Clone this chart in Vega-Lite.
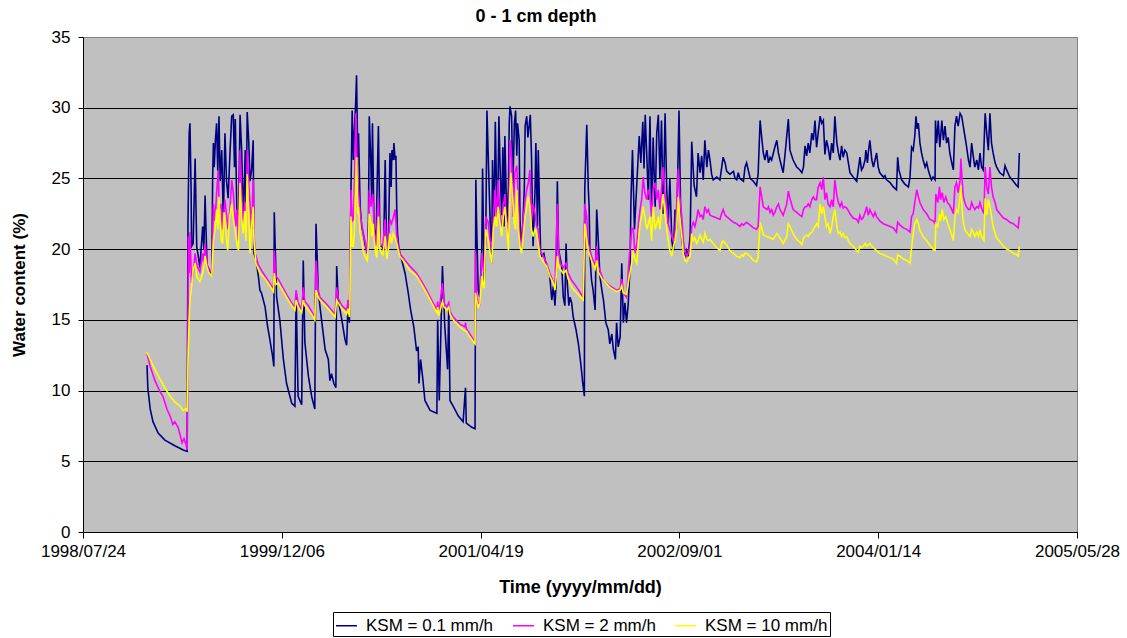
{
"$schema": "https://vega.github.io/schema/vega-lite/v6.json",
"width": 994, "height": 495,
"autosize": {"type": "none"},
"padding": {"left": 83, "top": 37, "right": 50, "bottom": 106},
"background": "white",
"config": {"font": "Liberation Sans", "view": {"fill": "#C0C0C0", "stroke": "#808080", "strokeWidth": 1}},
"title": {"text": "0 - 1 cm depth", "fontSize": 18, "fontWeight": "bold", "color": "black", "anchor": "middle", "dx": -44, "offset": 2},
"encoding": {
 "x": {"field": "d", "type": "quantitative", "scale": {"domain": [0, 2500], "nice": false, "zero": false},
  "axis": {"values": [0, 500, 1000, 1500, 2000, 2500], "labelExpr": "timeFormat(datetime(1998, 6, 24 + datum.value), '%Y/%m/%d')", "title": "Time (yyyy/mm/dd)", "grid": false, "domainColor": "black", "tickColor": "black", "tickSize": 6, "labelFontSize": 17, "labelColor": "black", "labelPadding": 5, "labelFlush": false, "titleFontSize": 18, "titleFontWeight": "bold", "titleColor": "black", "titlePadding": 19}},
 "y": {"field": "v", "type": "quantitative", "scale": {"domain": [0, 35], "nice": false},
  "axis": {"values": [0, 5, 10, 15, 20, 25, 30, 35], "title": "Water content (%)", "grid": true, "gridColor": {"condition": {"test": "datum.value == 35", "value": "#808080"}, "value": "black"}, "gridOpacity": 1, "gridWidth": 1, "domainColor": "black", "tickColor": "black", "tickSize": 5, "labelFontSize": 17, "labelColor": "black", "labelPadding": 8, "titleFontSize": 17, "titleFontWeight": "bold", "titleColor": "black", "titlePadding": 23}}
},
"layer": [
 {"data": {"values": [
{"d":161,"v":11.8},{"d":163,"v":10.2},{"d":169,"v":8.7},{"d":176,"v":7.8},{"d":189,"v":7.0},{"d":206,"v":6.5},{"d":231,"v":6.1},{"d":252,"v":5.8},{"d":262,"v":5.7},
{"d":264,"v":21.8},{"d":267,"v":28.2},{"d":269,"v":28.9},{"d":272,"v":24},{"d":273,"v":20.2},{"d":277,"v":20.4},{"d":282,"v":26.4},{"d":286,"v":20.2},{"d":290,"v":19.5},{"d":294,"v":18.7},{"d":301,"v":21.6},{"d":304,"v":20},{"d":307,"v":23.8},{"d":312,"v":18.8},{"d":317,"v":18.6},{"d":324,"v":18.1},{"d":326,"v":24.9},{"d":328,"v":27.5},{"d":330,"v":25.8},{"d":333,"v":27.7},{"d":336,"v":28.9},{"d":339,"v":25.5},{"d":342,"v":29.4},{"d":345,"v":24.8},{"d":349,"v":27.0},{"d":353,"v":22.0},{"d":357,"v":28.2},{"d":361,"v":24.8},{"d":365,"v":23.6},{"d":370,"v":27.0},{"d":374,"v":29.4},{"d":378,"v":29.5},{"d":381,"v":25.8},{"d":383,"v":29.2},{"d":387,"v":22.5},{"d":391,"v":21.6},{"d":395,"v":29.5},{"d":399,"v":27.0},{"d":403,"v":22.3},{"d":406,"v":24.8},{"d":408,"v":27.0},{"d":410,"v":21.7},{"d":413,"v":29.7},{"d":417,"v":27.5},{"d":420,"v":24.8},{"d":424,"v":25.6},{"d":428,"v":27.7},{"d":430,"v":19.7},{"d":435,"v":19.3},
{"d":441,"v":18.1},{"d":445,"v":17.1},{"d":449,"v":16.9},{"d":458,"v":15.9},{"d":464,"v":14.6},{"d":470,"v":13.6},{"d":477,"v":12.4},{"d":480,"v":11.7},{"d":481,"v":22.6},{"d":487,"v":16.6},{"d":495,"v":15.0},{"d":504,"v":12.2},{"d":512,"v":10.5},{"d":525,"v":9.1},{"d":533,"v":8.9},{"d":536,"v":16.9},{"d":541,"v":9.6},{"d":550,"v":9.0},{"d":554,"v":19.2},{"d":558,"v":13.4},{"d":567,"v":11.0},{"d":575,"v":9.6},{"d":583,"v":8.7},{"d":586,"v":21.8},{"d":592,"v":16.9},{"d":600,"v":15.0},{"d":609,"v":12.9},{"d":617,"v":12.2},{"d":621,"v":10.7},{"d":625,"v":11.2},{"d":631,"v":10.5},{"d":636,"v":10.2},{"d":638,"v":18.8},{"d":642,"v":16.4},{"d":651,"v":15.0},{"d":659,"v":13.6},{"d":663,"v":13.2},{"d":667,"v":16.4},{"d":670,"v":14.8},{"d":671,"v":16.9},
{"d":674,"v":24.2},{"d":677,"v":29.8},{"d":680,"v":26.3},{"d":682,"v":28.0},{"d":686,"v":30.5},{"d":688,"v":32.3},{"d":691,"v":26.5},{"d":693,"v":28.2},{"d":697,"v":23.0},{"d":701,"v":21.6},{"d":705,"v":21.1},{"d":709,"v":20.4},{"d":715,"v":19.7},{"d":718,"v":22.0},{"d":720,"v":29.4},{"d":724,"v":26.0},{"d":726,"v":23.5},{"d":728,"v":28.9},{"d":732,"v":21.6},{"d":737,"v":20.4},{"d":739,"v":23.5},{"d":743,"v":28.7},{"d":747,"v":20.2},{"d":752,"v":20.2},{"d":756,"v":19.9},{"d":760,"v":26.3},{"d":764,"v":19.7},{"d":768,"v":20.2},{"d":772,"v":26.8},{"d":775,"v":24.4},{"d":777,"v":27.0},{"d":780,"v":26.3},{"d":782,"v":27.5},{"d":785,"v":26.3},{"d":787,"v":26.6},{"d":789,"v":23.0},{"d":791,"v":21.1},{"d":794,"v":20.2},{"d":797,"v":19.7},{"d":802,"v":19.2},
{"d":810,"v":18.3},{"d":818,"v":16.9},{"d":824,"v":15.7},{"d":832,"v":14.5},{"d":839,"v":12.8},{"d":843,"v":13.1},{"d":845,"v":10.5},{"d":849,"v":12.2},{"d":854,"v":11.0},{"d":860,"v":9.3},{"d":873,"v":8.6},{"d":890,"v":8.4},{"d":892,"v":15.0},{"d":896,"v":9.3},{"d":904,"v":18.8},{"d":910,"v":14.5},{"d":917,"v":11.5},{"d":920,"v":15.9},{"d":923,"v":9.3},{"d":931,"v":8.9},{"d":944,"v":8.2},{"d":956,"v":7.8},{"d":962,"v":10.2},{"d":964,"v":7.7},{"d":978,"v":7.4},{"d":986,"v":7.3},
{"d":988,"v":24.9},{"d":990,"v":21.8},{"d":994,"v":17.1},{"d":998,"v":16.6},{"d":1003,"v":20.0},{"d":1005,"v":25.7},{"d":1009,"v":17.6},{"d":1013,"v":21.0},{"d":1016,"v":29.8},{"d":1020,"v":25.8},{"d":1024,"v":22.0},{"d":1028,"v":19.0},{"d":1030,"v":26.3},{"d":1034,"v":22.0},{"d":1037,"v":29.0},{"d":1040,"v":24.3},{"d":1043,"v":22.4},{"d":1046,"v":29.4},{"d":1049,"v":25.8},{"d":1053,"v":22.4},{"d":1056,"v":27.2},{"d":1059,"v":21.6},{"d":1061,"v":28.0},{"d":1066,"v":21.9},{"d":1070,"v":24.3},{"d":1072,"v":28.9},{"d":1074,"v":30.1},{"d":1078,"v":29.4},{"d":1081,"v":24.3},{"d":1085,"v":28.9},{"d":1088,"v":29.8},{"d":1091,"v":26.6},{"d":1093,"v":28.9},{"d":1097,"v":27.7},{"d":1099,"v":22.1},{"d":1103,"v":19.9},{"d":1107,"v":22.3},{"d":1110,"v":24.3},{"d":1112,"v":28.7},{"d":1116,"v":29.4},{"d":1119,"v":27.9},{"d":1122,"v":28.7},{"d":1125,"v":29.5},{"d":1128,"v":26.6},{"d":1132,"v":20.2},{"d":1137,"v":24.3},{"d":1139,"v":27.5},{"d":1143,"v":21.6},{"d":1145,"v":27.0},{"d":1148,"v":23.3},{"d":1151,"v":19.7},{"d":1154,"v":19.5},{"d":1159,"v":19.7},{"d":1164,"v":19.0},{"d":1170,"v":18.5},{"d":1174,"v":18.1},{"d":1179,"v":16.4},{"d":1183,"v":17.4},{"d":1187,"v":16.0},{"d":1190,"v":17.6},{"d":1193,"v":24.8},{"d":1196,"v":20.0},{"d":1200,"v":19.4},{"d":1204,"v":18.8},{"d":1208,"v":16.6},{"d":1212,"v":16.0},{"d":1215,"v":20.4},{"d":1218,"v":17.6},{"d":1222,"v":16.0},{"d":1225,"v":16.6},{"d":1229,"v":16.2},{"d":1233,"v":15.2},{"d":1240,"v":14.3},{"d":1246,"v":13.3},{"d":1252,"v":11.9},{"d":1257,"v":10.5},{"d":1261,"v":9.6},
{"d":1262,"v":24.2},{"d":1267,"v":28.8},{"d":1271,"v":24.2},{"d":1273,"v":23.0},{"d":1275,"v":19.5},{"d":1279,"v":17.8},{"d":1283,"v":17.1},{"d":1288,"v":15.7},{"d":1292,"v":22.8},{"d":1296,"v":20.6},{"d":1300,"v":18.1},{"d":1305,"v":17.1},{"d":1309,"v":16.4},{"d":1315,"v":14.8},{"d":1321,"v":14.3},{"d":1325,"v":13.3},{"d":1330,"v":14.0},{"d":1334,"v":12.9},{"d":1339,"v":12.2},{"d":1342,"v":14.8},{"d":1346,"v":13.1},{"d":1351,"v":13.8},{"d":1355,"v":19.0},{"d":1359,"v":14.8},{"d":1363,"v":16.2},{"d":1367,"v":14.8},{"d":1371,"v":16.0},{"d":1376,"v":18.8},{"d":1378,"v":23.3},{"d":1382,"v":27.0},{"d":1387,"v":21.4},{"d":1393,"v":24.7},
{"d":1399,"v":28.0},{"d":1403,"v":26.1},{"d":1408,"v":29.0},{"d":1411,"v":25.7},{"d":1414,"v":29.5},{"d":1418,"v":26.6},{"d":1422,"v":23.5},{"d":1426,"v":29.4},{"d":1430,"v":22.7},{"d":1434,"v":27.9},{"d":1439,"v":23.0},{"d":1443,"v":28.2},{"d":1447,"v":29.5},{"d":1451,"v":25.0},{"d":1455,"v":29.1},{"d":1459,"v":22.5},{"d":1464,"v":29.6},{"d":1468,"v":24.3},{"d":1472,"v":21.8},{"d":1476,"v":25.0},{"d":1481,"v":20.6},{"d":1485,"v":19.9},{"d":1489,"v":22.8},{"d":1493,"v":21.4},{"d":1499,"v":29.8},{"d":1503,"v":23.0},{"d":1506,"v":20.6},{"d":1510,"v":19.9},{"d":1514,"v":19.5},{"d":1518,"v":19.9},{"d":1522,"v":19.5},{"d":1527,"v":20.9},
{"d":1531,"v":27.6},{"d":1537,"v":24.5},{"d":1543,"v":23.7},{"d":1547,"v":26.8},{"d":1552,"v":25.4},{"d":1556,"v":26.6},{"d":1560,"v":24.9},{"d":1564,"v":27.7},{"d":1569,"v":25.8},{"d":1573,"v":27.0},{"d":1577,"v":26.3},{"d":1581,"v":25.3},{"d":1585,"v":24.9},{"d":1594,"v":25.1},{"d":1602,"v":24.9},{"d":1610,"v":26.5},{"d":1615,"v":26.1},{"d":1619,"v":25.5},{"d":1627,"v":25.3},{"d":1636,"v":25.5},{"d":1640,"v":25.0},{"d":1644,"v":24.9},{"d":1648,"v":25.4},{"d":1652,"v":25.0},{"d":1661,"v":24.8},{"d":1665,"v":25.8},{"d":1669,"v":26.1},{"d":1678,"v":25.0},{"d":1686,"v":24.8},{"d":1694,"v":24.5},{"d":1698,"v":25.3},{"d":1703,"v":29.1},{"d":1707,"v":27.9},{"d":1711,"v":26.8},{"d":1715,"v":26.3},{"d":1720,"v":27.0},{"d":1724,"v":26.1},{"d":1728,"v":26.5},{"d":1732,"v":26.3},{"d":1740,"v":27.2},{"d":1745,"v":27.7},{"d":1749,"v":26.8},{"d":1753,"v":26.3},{"d":1761,"v":25.4},{"d":1766,"v":26.8},{"d":1770,"v":28.0},{"d":1774,"v":29.2},{"d":1778,"v":27.0},{"d":1786,"v":26.3},{"d":1795,"v":25.8},{"d":1803,"v":25.6},{"d":1808,"v":25.4},{"d":1812,"v":25.8},{"d":1816,"v":27.3},{"d":1820,"v":26.6},{"d":1824,"v":27.5},{"d":1828,"v":26.8},{"d":1833,"v":28.2},{"d":1837,"v":27.7},{"d":1841,"v":29.1},{"d":1845,"v":27.2},{"d":1849,"v":28.2},{"d":1854,"v":29.4},{"d":1858,"v":28.9},{"d":1862,"v":29.1},{"d":1866,"v":26.7},{"d":1870,"v":27.7},{"d":1874,"v":27.2},{"d":1879,"v":26.3},{"d":1883,"v":27.5},{"d":1887,"v":26.8},{"d":1891,"v":29.4},{"d":1896,"v":27.5},{"d":1900,"v":26.8},{"d":1904,"v":26.3},{"d":1908,"v":27.3},{"d":1912,"v":26.5},{"d":1916,"v":27.0},{"d":1921,"v":26.8},{"d":1925,"v":26.1},{"d":1929,"v":25.4},{"d":1937,"v":25.1},{"d":1946,"v":24.8},{"d":1954,"v":26.5},{"d":1958,"v":25.6},{"d":1962,"v":25.8},{"d":1967,"v":26.3},{"d":1969,"v":27.0},{"d":1973,"v":26.1},{"d":1975,"v":26.8},{"d":1979,"v":27.7},{"d":1984,"v":26.3},{"d":1988,"v":25.8},{"d":1992,"v":26.3},{"d":1996,"v":26.8},{"d":2000,"v":25.8},{"d":2004,"v":25.4},{"d":2013,"v":25.1},{"d":2017,"v":25.2},{"d":2021,"v":24.9},{"d":2030,"v":24.7},{"d":2038,"v":24.4},{"d":2046,"v":24.2},{"d":2049,"v":26.5},{"d":2052,"v":25.6},{"d":2059,"v":24.9},{"d":2067,"v":24.6},{"d":2076,"v":24.4},{"d":2080,"v":25.1},{"d":2084,"v":27.2},{"d":2088,"v":27.0},{"d":2092,"v":28.0},{"d":2095,"v":29.4},{"d":2098,"v":28.5},{"d":2101,"v":28.9},{"d":2105,"v":27.5},{"d":2109,"v":26.8},{"d":2113,"v":26.3},{"d":2118,"v":25.8},{"d":2122,"v":26.1},{"d":2126,"v":25.6},{"d":2130,"v":25.2},{"d":2134,"v":24.9},{"d":2138,"v":25.1},{"d":2143,"v":24.9},{"d":2144,"v":29.1},{"d":2147,"v":27.5},{"d":2151,"v":29.1},{"d":2155,"v":27.2},{"d":2160,"v":29.1},{"d":2164,"v":27.7},{"d":2168,"v":28.7},{"d":2172,"v":27.5},{"d":2176,"v":27.9},{"d":2180,"v":26.8},{"d":2185,"v":26.1},{"d":2189,"v":25.6},{"d":2193,"v":28.7},{"d":2197,"v":29.4},{"d":2201,"v":28.7},{"d":2206,"v":29.6},{"d":2210,"v":29.4},{"d":2214,"v":28.7},{"d":2218,"v":28.0},{"d":2222,"v":27.3},{"d":2227,"v":26.3},{"d":2231,"v":25.8},{"d":2235,"v":27.5},{"d":2239,"v":26.6},{"d":2243,"v":25.8},{"d":2248,"v":26.3},{"d":2252,"v":25.6},{"d":2256,"v":26.8},{"d":2260,"v":25.8},{"d":2264,"v":25.6},{"d":2269,"v":29.6},{"d":2273,"v":28.2},{"d":2277,"v":27.0},{"d":2281,"v":29.6},{"d":2285,"v":27.5},{"d":2289,"v":26.8},{"d":2294,"v":26.1},{"d":2298,"v":25.8},{"d":2306,"v":25.4},{"d":2315,"v":25.2},{"d":2319,"v":25.9},{"d":2323,"v":25.6},{"d":2331,"v":25.1},{"d":2340,"v":24.8},{"d":2348,"v":24.5},{"d":2352,"v":24.4},{"d":2355,"v":26.8}
 ]},
 "mark": {"type": "line", "strokeWidth": 1.6},
 "encoding": {"color": {"datum": "KSM = 0.1 mm/h", "type": "nominal",
   "scale": {"domain": ["KSM = 0.1 mm/h", "KSM = 2 mm/h", "KSM = 10 mm/h"], "range": ["#000080", "#FF00FF", "#FFFF00"]},
   "legend": {"title": null, "orient": "none", "legendX": 250, "legendY": 575, "direction": "horizontal", "symbolType": "stroke", "symbolSize": 441, "symbolStrokeWidth": 1.5, "labelFontSize": 17, "labelColor": "black", "labelLimit": 300, "strokeColor": "black", "fillColor": "white", "padding": 2, "columnPadding": 16, "labelOffset": 8}}}
 },
 {"data": {"values": [
{"d":161,"v":12.6},{"d":169,"v":11.7},{"d":181,"v":10.7},{"d":194,"v":9.9},{"d":201,"v":9.6},{"d":211,"v":8.7},{"d":219,"v":8.2},{"d":226,"v":7.6},{"d":231,"v":7.8},{"d":239,"v":7.4},{"d":244,"v":6.9},{"d":249,"v":6.3},{"d":254,"v":6.6},{"d":259,"v":6.2},{"d":262,"v":5.8},
{"d":264,"v":14.0},{"d":265,"v":20.9},{"d":267,"v":18.3},{"d":269,"v":21.2},{"d":273,"v":17.6},{"d":277,"v":18.2},{"d":282,"v":19.7},{"d":287,"v":18.8},{"d":294,"v":18.4},{"d":301,"v":19.7},{"d":304,"v":18.9},{"d":307,"v":20.4},{"d":312,"v":18.9},{"d":317,"v":18.6},{"d":324,"v":18.3},{"d":328,"v":23.2},{"d":332,"v":22.0},{"d":336,"v":23.9},{"d":340,"v":25.6},{"d":343,"v":22.8},{"d":347,"v":23.2},{"d":351,"v":21.4},{"d":357,"v":23.5},{"d":361,"v":22.4},{"d":365,"v":21.4},{"d":370,"v":23.0},{"d":374,"v":24.9},{"d":378,"v":24.0},{"d":381,"v":22.8},{"d":384,"v":21.6},{"d":387,"v":22.8},{"d":391,"v":20.6},{"d":395,"v":27.0},{"d":399,"v":23.9},{"d":403,"v":21.6},{"d":407,"v":23.3},{"d":410,"v":21.0},{"d":413,"v":27.0},{"d":417,"v":24.6},{"d":420,"v":23.2},{"d":424,"v":21.4},{"d":428,"v":24.9},{"d":430,"v":21.1},{"d":433,"v":19.7},{"d":437,"v":19.3},
{"d":441,"v":18.9},{"d":449,"v":18.5},{"d":458,"v":18.1},{"d":470,"v":17.6},{"d":479,"v":17.2},{"d":481,"v":19.9},{"d":485,"v":18.1},{"d":491,"v":17.9},{"d":504,"v":17.2},{"d":512,"v":16.8},{"d":525,"v":16.2},{"d":533,"v":15.9},{"d":536,"v":17.1},{"d":541,"v":16.2},{"d":550,"v":15.7},{"d":554,"v":17.3},{"d":558,"v":16.3},{"d":567,"v":16.0},{"d":575,"v":15.6},{"d":583,"v":15.2},{"d":586,"v":19.2},{"d":592,"v":17.0},{"d":596,"v":16.6},{"d":613,"v":16.1},{"d":625,"v":15.7},{"d":634,"v":15.4},{"d":638,"v":17.3},{"d":642,"v":16.5},{"d":651,"v":16.0},{"d":663,"v":15.7},{"d":667,"v":16.4},{"d":670,"v":15.5},{"d":671,"v":16.9},
{"d":674,"v":24.2},{"d":677,"v":22.0},{"d":680,"v":22.1},{"d":683,"v":25.0},{"d":686,"v":29.6},{"d":689,"v":26.5},{"d":692,"v":24.4},{"d":697,"v":22.5},{"d":701,"v":21.8},{"d":705,"v":21.0},{"d":709,"v":20.6},{"d":715,"v":19.7},{"d":718,"v":21.5},{"d":720,"v":24.2},{"d":724,"v":23.0},{"d":729,"v":23.9},{"d":732,"v":21.4},{"d":737,"v":20.2},{"d":743,"v":23.6},{"d":747,"v":20.4},{"d":754,"v":20.2},{"d":760,"v":22.1},{"d":764,"v":19.9},{"d":768,"v":20.6},{"d":772,"v":22.1},{"d":776,"v":21.8},{"d":780,"v":22.2},{"d":785,"v":22.8},{"d":789,"v":21.0},{"d":793,"v":20.2},{"d":797,"v":19.7},
{"d":810,"v":19.2},{"d":822,"v":18.8},{"d":839,"v":18.3},{"d":852,"v":17.7},{"d":864,"v":17.1},{"d":877,"v":16.4},{"d":890,"v":15.7},{"d":892,"v":16.3},{"d":895,"v":15.5},{"d":904,"v":17.6},{"d":908,"v":16.2},{"d":915,"v":15.9},{"d":920,"v":16.2},{"d":923,"v":15.6},{"d":931,"v":15.2},{"d":948,"v":14.7},{"d":961,"v":14.5},{"d":962,"v":14.8},{"d":964,"v":14.4},{"d":973,"v":14.0},{"d":986,"v":13.4},
{"d":987,"v":19.9},{"d":990,"v":16.6},{"d":994,"v":16.2},{"d":998,"v":16.1},{"d":1003,"v":19.7},{"d":1007,"v":18.5},{"d":1009,"v":18.4},{"d":1013,"v":22.3},{"d":1019,"v":21.9},{"d":1024,"v":20.6},{"d":1028,"v":20.0},{"d":1032,"v":22.0},{"d":1036,"v":24.2},{"d":1040,"v":22.3},{"d":1044,"v":24.9},{"d":1049,"v":22.3},{"d":1053,"v":21.4},{"d":1057,"v":23.0},{"d":1061,"v":23.9},{"d":1066,"v":21.7},{"d":1070,"v":20.6},{"d":1074,"v":27.7},{"d":1078,"v":26.4},{"d":1082,"v":22.3},{"d":1086,"v":25.4},{"d":1091,"v":25.9},{"d":1095,"v":23.5},{"d":1099,"v":20.6},{"d":1103,"v":20.2},{"d":1107,"v":22.0},{"d":1112,"v":23.5},{"d":1116,"v":24.2},{"d":1120,"v":24.7},{"d":1124,"v":25.6},{"d":1128,"v":22.0},{"d":1132,"v":23.2},{"d":1137,"v":22.5},{"d":1141,"v":21.6},{"d":1145,"v":21.4},{"d":1149,"v":19.9},{"d":1158,"v":19.5},{"d":1166,"v":19.0},{"d":1174,"v":18.3},{"d":1187,"v":17.4},{"d":1193,"v":23.2},{"d":1196,"v":19.9},{"d":1200,"v":19.0},{"d":1208,"v":18.7},{"d":1215,"v":19.0},{"d":1220,"v":18.3},{"d":1229,"v":17.8},{"d":1242,"v":17.3},{"d":1258,"v":16.6},
{"d":1262,"v":23.2},{"d":1267,"v":22.3},{"d":1271,"v":20.4},{"d":1279,"v":19.5},{"d":1288,"v":18.8},{"d":1292,"v":20.2},{"d":1296,"v":18.8},{"d":1305,"v":18.1},{"d":1309,"v":17.8},{"d":1325,"v":17.4},{"d":1342,"v":17.1},{"d":1351,"v":17.2},{"d":1355,"v":17.9},{"d":1359,"v":16.9},{"d":1367,"v":16.6},{"d":1374,"v":19.5},{"d":1380,"v":21.4},{"d":1384,"v":21.5},
{"d":1388,"v":19.7},{"d":1393,"v":20.4},{"d":1397,"v":21.8},{"d":1401,"v":22.8},{"d":1405,"v":23.5},{"d":1409,"v":25.1},{"d":1413,"v":24.0},{"d":1418,"v":23.5},{"d":1422,"v":24.2},{"d":1426,"v":23.7},{"d":1430,"v":22.3},{"d":1434,"v":24.2},{"d":1439,"v":24.7},{"d":1443,"v":23.5},{"d":1447,"v":24.2},{"d":1451,"v":22.8},{"d":1455,"v":24.2},{"d":1459,"v":25.8},{"d":1464,"v":23.7},{"d":1468,"v":23.0},{"d":1472,"v":21.8},{"d":1476,"v":21.4},{"d":1481,"v":20.9},{"d":1485,"v":20.6},{"d":1489,"v":21.1},{"d":1493,"v":23.0},{"d":1497,"v":25.7},{"d":1501,"v":23.7},{"d":1506,"v":22.3},{"d":1510,"v":20.6},{"d":1514,"v":19.9},{"d":1518,"v":19.5},{"d":1522,"v":19.7},{"d":1527,"v":20.2},
{"d":1531,"v":21.6},{"d":1535,"v":21.9},{"d":1539,"v":21.6},{"d":1543,"v":22.1},{"d":1547,"v":22.8},{"d":1552,"v":22.3},{"d":1556,"v":22.4},{"d":1560,"v":22.1},{"d":1564,"v":23.0},{"d":1569,"v":22.6},{"d":1573,"v":22.8},{"d":1577,"v":22.4},{"d":1585,"v":22.3},{"d":1594,"v":22.2},{"d":1602,"v":22.1},{"d":1606,"v":22.5},{"d":1610,"v":22.8},{"d":1615,"v":22.4},{"d":1619,"v":22.3},{"d":1627,"v":22.1},{"d":1636,"v":21.9},{"d":1644,"v":21.8},{"d":1652,"v":21.6},{"d":1657,"v":21.8},{"d":1661,"v":21.7},{"d":1665,"v":21.8},{"d":1669,"v":21.9},{"d":1678,"v":21.7},{"d":1686,"v":21.5},{"d":1694,"v":21.4},{"d":1698,"v":21.6},{"d":1703,"v":24.4},{"d":1707,"v":23.7},{"d":1711,"v":23.0},{"d":1720,"v":22.8},{"d":1724,"v":23.0},{"d":1728,"v":22.6},{"d":1732,"v":22.8},{"d":1736,"v":22.4},{"d":1740,"v":22.6},{"d":1745,"v":23.0},{"d":1749,"v":23.2},{"d":1753,"v":22.8},{"d":1761,"v":22.4},{"d":1770,"v":23.2},{"d":1774,"v":24.1},{"d":1778,"v":23.6},{"d":1786,"v":22.8},{"d":1795,"v":22.6},{"d":1803,"v":22.4},{"d":1808,"v":22.3},{"d":1812,"v":22.8},{"d":1816,"v":23.0},{"d":1820,"v":23.0},{"d":1824,"v":23.2},{"d":1828,"v":23.0},{"d":1833,"v":23.5},{"d":1837,"v":23.7},{"d":1841,"v":23.5},{"d":1845,"v":23.5},{"d":1849,"v":24.4},{"d":1854,"v":24.7},{"d":1858,"v":24.2},{"d":1862,"v":25.1},{"d":1866,"v":23.5},{"d":1870,"v":24.0},{"d":1874,"v":23.2},{"d":1879,"v":23.0},{"d":1883,"v":23.5},{"d":1887,"v":23.0},{"d":1891,"v":24.9},{"d":1896,"v":23.8},{"d":1900,"v":23.3},{"d":1904,"v":23.0},{"d":1908,"v":23.3},{"d":1912,"v":22.9},{"d":1916,"v":23.0},{"d":1921,"v":22.9},{"d":1925,"v":22.7},{"d":1929,"v":22.5},{"d":1937,"v":22.2},{"d":1946,"v":22.1},{"d":1950,"v":21.9},{"d":1954,"v":22.4},{"d":1958,"v":22.1},{"d":1962,"v":22.2},{"d":1967,"v":22.6},{"d":1971,"v":23.0},{"d":1975,"v":22.4},{"d":1979,"v":22.8},{"d":1984,"v":22.5},{"d":1988,"v":22.3},{"d":1992,"v":22.6},{"d":1996,"v":22.3},{"d":2004,"v":22.0},{"d":2013,"v":21.8},{"d":2021,"v":21.7},{"d":2030,"v":21.6},{"d":2038,"v":21.5},{"d":2046,"v":21.2},{"d":2049,"v":21.9},{"d":2055,"v":21.7},{"d":2063,"v":21.5},{"d":2072,"v":21.4},{"d":2080,"v":21.2},{"d":2084,"v":22.3},{"d":2088,"v":22.5},{"d":2092,"v":23.3},{"d":2097,"v":24.2},{"d":2101,"v":23.7},{"d":2105,"v":23.3},{"d":2113,"v":22.8},{"d":2122,"v":22.5},{"d":2130,"v":22.1},{"d":2138,"v":22.0},{"d":2143,"v":21.8},{"d":2145,"v":23.9},{"d":2150,"v":23.3},{"d":2154,"v":24.4},{"d":2157,"v":23.5},{"d":2161,"v":24.0},{"d":2165,"v":23.3},{"d":2170,"v":23.7},{"d":2174,"v":23.3},{"d":2180,"v":23.1},{"d":2185,"v":22.8},{"d":2189,"v":22.5},{"d":2193,"v":24.4},{"d":2197,"v":24.7},{"d":2201,"v":24.0},{"d":2206,"v":24.9},{"d":2208,"v":26.4},{"d":2211,"v":24.9},{"d":2214,"v":23.7},{"d":2218,"v":23.3},{"d":2222,"v":23.0},{"d":2227,"v":22.8},{"d":2231,"v":22.8},{"d":2235,"v":23.3},{"d":2239,"v":23.0},{"d":2243,"v":22.8},{"d":2248,"v":23.0},{"d":2252,"v":22.9},{"d":2256,"v":23.3},{"d":2260,"v":22.9},{"d":2266,"v":22.5},{"d":2269,"v":25.8},{"d":2273,"v":24.4},{"d":2277,"v":23.9},{"d":2281,"v":25.8},{"d":2285,"v":24.4},{"d":2289,"v":23.7},{"d":2294,"v":23.3},{"d":2298,"v":22.8},{"d":2306,"v":22.5},{"d":2315,"v":22.2},{"d":2323,"v":22.1},{"d":2331,"v":21.9},{"d":2340,"v":21.8},{"d":2348,"v":21.6},{"d":2352,"v":21.5},{"d":2355,"v":22.3}
 ]},
 "mark": {"type": "line", "strokeWidth": 1.6},
 "encoding": {"color": {"datum": "KSM = 2 mm/h", "type": "nominal"}}
 },
 {"data": {"values": [
{"d":161,"v":12.7},{"d":169,"v":12.2},{"d":181,"v":11.5},{"d":194,"v":10.8},{"d":206,"v":10.2},{"d":219,"v":9.6},{"d":231,"v":9.2},{"d":244,"v":8.9},{"d":252,"v":8.6},{"d":259,"v":8.7},{"d":262,"v":8.5},
{"d":264,"v":11.9},{"d":267,"v":15.0},{"d":269,"v":16.4},{"d":273,"v":17.3},{"d":277,"v":18.5},{"d":282,"v":19.0},{"d":287,"v":18.0},{"d":294,"v":17.7},{"d":302,"v":18.4},{"d":307,"v":19.5},{"d":312,"v":18.7},{"d":317,"v":18.3},{"d":324,"v":18.1},{"d":328,"v":20.6},{"d":332,"v":21.4},{"d":336,"v":22.8},{"d":339,"v":21.4},{"d":342,"v":23.7},{"d":345,"v":21.8},{"d":348,"v":20.6},{"d":351,"v":20.4},{"d":355,"v":22.6},{"d":357,"v":22.1},{"d":361,"v":20.6},{"d":364,"v":19.9},{"d":368,"v":22.1},{"d":374,"v":23.2},{"d":378,"v":22.1},{"d":382,"v":21.4},{"d":387,"v":20.4},{"d":391,"v":19.9},{"d":395,"v":24.7},{"d":399,"v":22.1},{"d":403,"v":21.1},{"d":407,"v":22.7},{"d":410,"v":20.6},{"d":413,"v":25.3},{"d":417,"v":22.3},{"d":420,"v":19.7},{"d":424,"v":21.6},{"d":428,"v":23.0},{"d":430,"v":20.6},{"d":435,"v":19.0},
{"d":445,"v":18.3},{"d":458,"v":17.9},{"d":470,"v":17.4},{"d":479,"v":17.0},{"d":481,"v":18.3},{"d":485,"v":17.5},{"d":491,"v":17.6},{"d":504,"v":17.0},{"d":512,"v":16.6},{"d":525,"v":16.0},{"d":533,"v":15.7},{"d":536,"v":16.4},{"d":541,"v":15.9},{"d":550,"v":15.5},{"d":554,"v":16.4},{"d":558,"v":16.0},{"d":567,"v":15.7},{"d":575,"v":15.4},{"d":583,"v":15.0},{"d":586,"v":17.1},{"d":592,"v":16.6},{"d":596,"v":16.4},{"d":613,"v":15.9},{"d":625,"v":15.5},{"d":634,"v":15.2},{"d":638,"v":16.4},{"d":642,"v":16.2},{"d":651,"v":15.8},{"d":663,"v":15.4},{"d":667,"v":15.8},{"d":670,"v":15.2},{"d":671,"v":15.8},
{"d":674,"v":22.3},{"d":677,"v":20.2},{"d":680,"v":20.2},{"d":683,"v":21.5},{"d":686,"v":25.0},{"d":688,"v":26.5},{"d":691,"v":22.5},{"d":693,"v":23.0},{"d":697,"v":21.1},{"d":701,"v":20.6},{"d":705,"v":19.8},{"d":709,"v":19.5},{"d":715,"v":19.2},{"d":718,"v":20.5},{"d":720,"v":22.5},{"d":724,"v":21.8},{"d":727,"v":20.9},{"d":730,"v":21.8},{"d":732,"v":20.7},{"d":737,"v":19.6},{"d":739,"v":19.4},{"d":743,"v":22.3},{"d":747,"v":19.9},{"d":754,"v":19.6},{"d":760,"v":20.9},{"d":764,"v":19.3},{"d":768,"v":20.0},{"d":772,"v":21.1},{"d":776,"v":20.4},{"d":780,"v":21.1},{"d":785,"v":20.8},{"d":789,"v":20.4},{"d":793,"v":19.9},{"d":797,"v":19.5},
{"d":810,"v":19.0},{"d":822,"v":18.5},{"d":839,"v":18.1},{"d":852,"v":17.5},{"d":864,"v":16.9},{"d":877,"v":16.2},{"d":890,"v":15.5},{"d":892,"v":15.9},{"d":895,"v":15.3},{"d":904,"v":16.3},{"d":908,"v":15.9},{"d":915,"v":15.7},{"d":920,"v":15.9},{"d":923,"v":15.4},{"d":931,"v":15.0},{"d":948,"v":14.5},{"d":961,"v":14.2},{"d":964,"v":14.2},{"d":973,"v":13.8},{"d":986,"v":13.3},
{"d":987,"v":16.9},{"d":990,"v":16.4},{"d":994,"v":15.9},{"d":998,"v":16.1},{"d":1003,"v":18.1},{"d":1007,"v":17.3},{"d":1009,"v":17.3},{"d":1013,"v":21.4},{"d":1019,"v":20.7},{"d":1024,"v":19.7},{"d":1028,"v":19.0},{"d":1032,"v":21.4},{"d":1036,"v":22.3},{"d":1040,"v":21.6},{"d":1044,"v":23.0},{"d":1049,"v":21.8},{"d":1053,"v":20.9},{"d":1057,"v":22.3},{"d":1061,"v":23.0},{"d":1066,"v":21.4},{"d":1070,"v":19.9},{"d":1074,"v":24.2},{"d":1076,"v":25.4},{"d":1081,"v":23.5},{"d":1085,"v":21.8},{"d":1088,"v":21.4},{"d":1091,"v":24.2},{"d":1095,"v":21.4},{"d":1099,"v":20.2},{"d":1103,"v":19.7},{"d":1107,"v":20.9},{"d":1112,"v":22.3},{"d":1116,"v":23.0},{"d":1120,"v":23.7},{"d":1124,"v":23.0},{"d":1128,"v":21.4},{"d":1132,"v":20.9},{"d":1137,"v":21.4},{"d":1141,"v":21.1},{"d":1145,"v":20.4},{"d":1149,"v":19.5},{"d":1158,"v":19.1},{"d":1166,"v":18.8},{"d":1174,"v":18.1},{"d":1183,"v":17.6},{"d":1187,"v":17.1},{"d":1190,"v":18.0},{"d":1193,"v":19.5},{"d":1196,"v":18.8},{"d":1200,"v":18.6},{"d":1208,"v":18.3},{"d":1215,"v":18.5},{"d":1220,"v":17.9},{"d":1229,"v":17.3},{"d":1242,"v":16.9},{"d":1258,"v":16.4},
{"d":1262,"v":21.8},{"d":1267,"v":20.6},{"d":1271,"v":19.9},{"d":1279,"v":19.2},{"d":1288,"v":18.6},{"d":1292,"v":19.2},{"d":1296,"v":18.4},{"d":1305,"v":17.9},{"d":1309,"v":17.8},{"d":1325,"v":17.3},{"d":1342,"v":17.0},{"d":1351,"v":17.1},{"d":1355,"v":17.4},{"d":1359,"v":16.9},{"d":1367,"v":16.8},{"d":1374,"v":18.1},{"d":1380,"v":19.0},{"d":1384,"v":19.9},
{"d":1388,"v":19.3},{"d":1393,"v":19.0},{"d":1397,"v":20.6},{"d":1401,"v":21.8},{"d":1405,"v":22.3},{"d":1409,"v":23.0},{"d":1413,"v":22.3},{"d":1418,"v":21.4},{"d":1422,"v":21.8},{"d":1426,"v":22.3},{"d":1430,"v":20.6},{"d":1434,"v":23.0},{"d":1439,"v":21.4},{"d":1443,"v":21.8},{"d":1447,"v":22.3},{"d":1451,"v":21.4},{"d":1455,"v":22.8},{"d":1459,"v":23.9},{"d":1464,"v":22.3},{"d":1468,"v":21.4},{"d":1472,"v":20.6},{"d":1476,"v":19.9},{"d":1481,"v":19.5},{"d":1485,"v":20.2},{"d":1489,"v":20.6},{"d":1493,"v":21.4},{"d":1497,"v":23.7},{"d":1501,"v":22.3},{"d":1506,"v":20.9},{"d":1510,"v":19.7},{"d":1514,"v":19.2},{"d":1518,"v":19.1},{"d":1522,"v":19.3},{"d":1527,"v":19.5},
{"d":1531,"v":21.1},{"d":1535,"v":20.6},{"d":1539,"v":20.8},{"d":1543,"v":20.4},{"d":1547,"v":20.6},{"d":1552,"v":21.0},{"d":1556,"v":20.7},{"d":1560,"v":20.5},{"d":1564,"v":21.1},{"d":1569,"v":20.7},{"d":1573,"v":20.6},{"d":1577,"v":20.7},{"d":1585,"v":20.4},{"d":1594,"v":20.1},{"d":1602,"v":19.9},{"d":1606,"v":20.4},{"d":1610,"v":20.6},{"d":1615,"v":20.4},{"d":1619,"v":20.3},{"d":1627,"v":19.9},{"d":1636,"v":19.7},{"d":1644,"v":19.5},{"d":1652,"v":19.4},{"d":1657,"v":19.6},{"d":1661,"v":19.5},{"d":1665,"v":19.7},{"d":1669,"v":19.7},{"d":1678,"v":19.5},{"d":1686,"v":19.2},{"d":1694,"v":19.1},{"d":1698,"v":19.4},{"d":1703,"v":21.9},{"d":1707,"v":21.5},{"d":1711,"v":21.0},{"d":1720,"v":20.9},{"d":1728,"v":20.8},{"d":1736,"v":20.7},{"d":1745,"v":21.1},{"d":1753,"v":20.8},{"d":1761,"v":20.4},{"d":1770,"v":20.9},{"d":1774,"v":21.8},{"d":1778,"v":21.6},{"d":1786,"v":21.1},{"d":1795,"v":20.7},{"d":1803,"v":20.5},{"d":1808,"v":20.3},{"d":1812,"v":20.8},{"d":1816,"v":20.9},{"d":1820,"v":21.0},{"d":1824,"v":20.9},{"d":1828,"v":21.1},{"d":1833,"v":21.2},{"d":1837,"v":21.4},{"d":1841,"v":21.6},{"d":1845,"v":21.8},{"d":1849,"v":21.6},{"d":1854,"v":23.2},{"d":1858,"v":22.5},{"d":1862,"v":23.0},{"d":1866,"v":22.3},{"d":1870,"v":21.6},{"d":1874,"v":21.8},{"d":1879,"v":21.1},{"d":1883,"v":21.6},{"d":1887,"v":22.3},{"d":1891,"v":22.8},{"d":1896,"v":21.6},{"d":1900,"v":21.1},{"d":1904,"v":21.2},{"d":1908,"v":20.9},{"d":1912,"v":21.1},{"d":1916,"v":20.8},{"d":1921,"v":20.9},{"d":1925,"v":20.6},{"d":1929,"v":20.4},{"d":1937,"v":20.2},{"d":1946,"v":19.9},{"d":1950,"v":19.8},{"d":1954,"v":20.2},{"d":1958,"v":20.1},{"d":1962,"v":20.2},{"d":1967,"v":20.4},{"d":1971,"v":20.2},{"d":1975,"v":20.3},{"d":1979,"v":20.4},{"d":1984,"v":20.2},{"d":1988,"v":20.1},{"d":1996,"v":19.9},{"d":2004,"v":19.7},{"d":2013,"v":19.6},{"d":2021,"v":19.5},{"d":2030,"v":19.4},{"d":2038,"v":19.3},{"d":2046,"v":19.0},{"d":2049,"v":19.6},{"d":2055,"v":19.5},{"d":2063,"v":19.3},{"d":2072,"v":19.2},{"d":2080,"v":19.0},{"d":2084,"v":20.1},{"d":2088,"v":21.1},{"d":2092,"v":21.8},{"d":2097,"v":22.1},{"d":2101,"v":21.8},{"d":2105,"v":21.3},{"d":2113,"v":20.9},{"d":2122,"v":20.6},{"d":2130,"v":20.3},{"d":2138,"v":20.0},{"d":2143,"v":19.9},{"d":2145,"v":21.8},{"d":2150,"v":21.6},{"d":2154,"v":22.5},{"d":2157,"v":22.0},{"d":2161,"v":22.8},{"d":2165,"v":22.1},{"d":2170,"v":22.3},{"d":2174,"v":21.9},{"d":2180,"v":21.4},{"d":2185,"v":21.0},{"d":2189,"v":20.6},{"d":2193,"v":22.3},{"d":2197,"v":22.8},{"d":2201,"v":22.6},{"d":2206,"v":23.7},{"d":2208,"v":24.5},{"d":2211,"v":22.8},{"d":2214,"v":21.9},{"d":2218,"v":21.4},{"d":2222,"v":21.2},{"d":2231,"v":20.9},{"d":2235,"v":21.4},{"d":2239,"v":21.2},{"d":2243,"v":20.9},{"d":2248,"v":21.2},{"d":2252,"v":20.9},{"d":2256,"v":21.3},{"d":2260,"v":20.9},{"d":2266,"v":20.6},{"d":2269,"v":23.6},{"d":2273,"v":22.4},{"d":2277,"v":23.5},{"d":2281,"v":23.0},{"d":2285,"v":22.3},{"d":2289,"v":21.6},{"d":2294,"v":21.1},{"d":2298,"v":20.8},{"d":2306,"v":20.5},{"d":2315,"v":20.2},{"d":2323,"v":20.0},{"d":2331,"v":19.9},{"d":2340,"v":19.7},{"d":2348,"v":19.6},{"d":2352,"v":19.5},{"d":2355,"v":20.2}
 ]},
 "mark": {"type": "line", "strokeWidth": 1.6},
 "encoding": {"color": {"datum": "KSM = 10 mm/h", "type": "nominal"}}
 }
]
}
